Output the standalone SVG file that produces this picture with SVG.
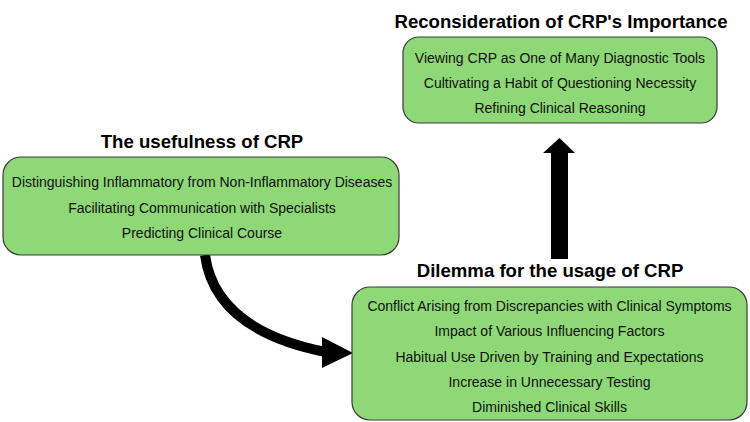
<svg xmlns="http://www.w3.org/2000/svg" width="750" height="422" viewBox="0 0 750 422">
  <style>
    .box { fill: #8fd877; stroke: #3a3a3a; stroke-width: 1.2; }
    .title { font-family: "Liberation Sans", Arial, sans-serif; font-size: 18.6px; font-weight: bold; fill: #000; text-anchor: middle; }
    .item { font-family: "Liberation Sans", Arial, sans-serif; font-size: 14px; fill: #111; text-anchor: middle; }
    .conn { fill: none; stroke: #000; stroke-width: 10; }
    .head { fill: #000; stroke: none; }
  </style>
  <rect width="750" height="422" fill="#ffffff"/>
  <g id="connectors">
    <path class="conn" d="M 205 255 Q 215 330 326 352"/>
    <polygon class="head" points="322,337 353,353 322,368"/>
    <polygon class="head" points="551,259 568,259 568,153 575,153 559.5,138 543,153 551,153"/>
  </g>
  <g id="usefulness">
    <text class="title" x="202" y="148">The usefulness of CRP</text>
    <rect class="box" x="3" y="157" width="396" height="98" rx="18" ry="18"/>
    <text class="item" x="202" y="187">Distinguishing Inflammatory from Non-Inflammatory Diseases</text>
    <text class="item" x="202" y="213">Facilitating Communication with Specialists</text>
    <text class="item" x="202" y="238">Predicting Clinical Course</text>
  </g>
  <g id="reconsideration">
    <text class="title" x="561" y="28">Reconsideration of CRP's Importance</text>
    <rect class="box" x="403" y="37" width="314" height="86" rx="16" ry="16"/>
    <text class="item" x="560" y="63">Viewing CRP as One of Many Diagnostic Tools</text>
    <text class="item" x="560" y="88">Cultivating a Habit of Questioning Necessity</text>
    <text class="item" x="560" y="113">Refining Clinical Reasoning</text>
  </g>
  <g id="dilemma">
    <text class="title" x="550" y="277">Dilemma for the usage of CRP</text>
    <rect class="box" x="352" y="287" width="395" height="133" rx="18" ry="18"/>
    <text class="item" x="549.5" y="311">Conflict Arising from Discrepancies with Clinical Symptoms</text>
    <text class="item" x="549.5" y="336">Impact of Various Influencing Factors</text>
    <text class="item" x="549.5" y="362">Habitual Use Driven by Training and Expectations</text>
    <text class="item" x="549.5" y="387">Increase in Unnecessary Testing</text>
    <text class="item" x="549.5" y="412">Diminished Clinical Skills</text>
  </g>
</svg>
